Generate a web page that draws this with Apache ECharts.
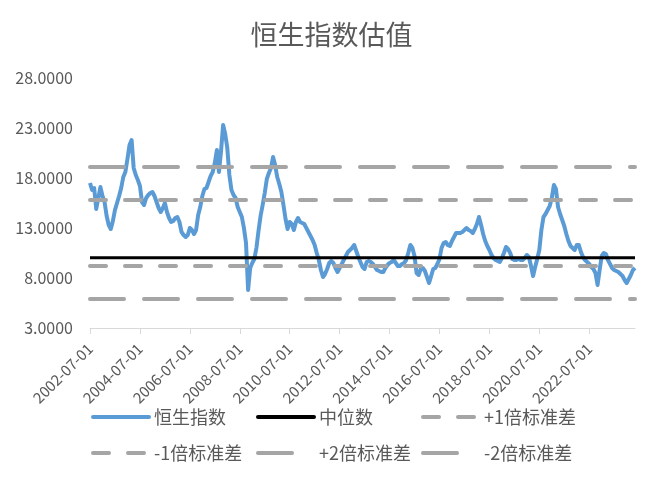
<!DOCTYPE html>
<html>
<head>
<meta charset="utf-8">
<title>恒生指数估值</title>
<style>
    html, body {margin: 0; padding: 0; background: #fff;}
    #main {width: 663px; height: 481px;}
</style>
</head>
<body>
<div id="main"></div>
<script src="https://cdn.jsdelivr.net/npm/echarts@6/dist/echarts.min.js"></script>
<script>
    // 月度估值，2002-07 起
    var startYear = 2002;
    var startMonth = 7;
    var hsiValues = [
        17.5, 16.8, 17.0, 14.9, 16.0, 17.1, 16.2, 15.6, 14.2, 13.3, 12.9, 13.7,
        14.8, 15.5, 16.2, 17.0, 18.1, 18.6, 19.9, 21.3, 21.8, 19.0, 18.3, 17.8,
        17.2, 15.6, 15.3, 16.0, 16.3, 16.5, 16.6, 16.2, 15.6, 15.0, 14.6, 15.0,
        15.5, 14.6, 14.0, 13.6, 13.7, 14.0, 14.1, 13.6, 12.6, 12.3, 12.1, 12.3,
        13.0, 12.8, 12.4, 12.8, 14.3, 15.1, 16.2, 16.9, 17.0, 17.6, 18.2, 18.6,
        19.5, 20.8, 18.6, 20.7, 23.3, 22.4, 21.0, 18.3, 16.8, 16.3, 16.0, 15.1,
        14.6, 14.1, 13.0, 11.5, 6.8, 9.0, 9.5, 9.9, 11.0, 12.7, 14.2, 15.3,
        16.5, 17.9, 18.5, 19.0, 20.1, 19.3, 18.1, 17.4, 16.6, 15.3, 13.9, 12.9,
        13.6, 13.4, 12.8, 13.6, 14.0, 13.6, 13.5, 13.4, 13.0, 12.6, 12.2, 11.8,
        11.3, 10.5, 9.8, 8.8, 8.1, 8.4, 8.9, 9.5, 9.7, 9.5, 9.0, 8.6,
        9.0, 9.4, 9.8, 10.2, 10.6, 10.8, 11.0, 11.3, 10.7, 10.1, 9.6, 9.1,
        8.9, 9.6, 9.7, 9.6, 9.4, 9.1, 8.8, 8.7, 8.6, 8.6, 9.0, 9.3,
        9.5, 9.6, 9.8, 9.5, 9.2, 9.2, 9.4, 9.5, 9.8, 10.5, 11.3, 11.0,
        10.2, 8.5, 8.3, 8.9, 9.0, 8.7, 8.1, 7.5, 8.2, 8.9, 9.0, 9.4,
        9.9, 11.0, 11.5, 11.6, 11.3, 11.2, 11.7, 12.1, 12.5, 12.5, 12.5, 12.6,
        12.8, 13.0, 12.8, 12.7, 12.5, 12.9, 13.4, 14.1, 13.3, 12.4, 11.7, 11.2,
        10.8, 10.3, 10.0, 9.8, 9.7, 9.6, 10.0, 10.5, 11.1, 10.9, 10.5, 9.9,
        9.8, 9.8, 9.9, 9.8, 9.8, 10.0, 10.3, 10.1, 9.2, 8.2, 9.1, 9.9,
        10.8, 12.8, 14.1, 14.4, 14.8, 15.2, 16.0, 17.3, 16.9, 15.1, 14.4, 13.8,
        13.2, 12.4, 11.7, 11.2, 11.0, 10.8, 11.3, 11.3, 10.6, 10.1, 9.8, 9.6,
        9.4, 9.1, 8.9, 8.5, 7.3, 8.8, 10.2, 10.5, 10.4, 9.8, 9.4, 9.0,
        8.8, 8.7, 8.6, 8.4, 8.2, 7.8, 7.5, 7.9, 8.3, 8.8, 9.0
    ];
    var medianValue = 10.03;
    var meanValue = 12.5;
    var stdValue = 3.3;
    var seriesNames = ['恒生指数', '中位数', '+1倍标准差', '-1倍标准差', '+2倍标准差', '-2倍标准差'];
    var yMin = 3, yMax = 28, yStep = 5;

    var dateList = [];
    for (var i = 0; i < hsiValues.length; i++) {
        var mm = startMonth - 1 + i;
        var y = startYear + Math.floor(mm / 12);
        var m = mm % 12 + 1;
        dateList.push(y + '-' + (m < 10 ? '0' + m : m) + '-01');
    }

    function flat(v) {
        var arr = [];
        for (var i = 0; i < dateList.length; i++) arr.push(v);
        return arr;
    }

    var font = '"Noto Sans CJK SC", "Microsoft YaHei", sans-serif';
    var grey = '#A5A5A5';
    var shortDash = [16, 19];
    var longDash = [34, 20];

    var bands = [
        {name: seriesNames[2], v: meanValue + stdValue, dash: shortDash},
        {name: seriesNames[3], v: meanValue - stdValue, dash: shortDash},
        {name: seriesNames[4], v: meanValue + 2 * stdValue, dash: longDash},
        {name: seriesNames[5], v: meanValue - 2 * stdValue, dash: longDash}
    ];

    var series = [
        {
            name: seriesNames[0], type: 'line', symbol: 'none', data: hsiValues,
            lineStyle: {color: '#5B9BD5', width: 4, join: 'round'}, itemStyle: {color: '#5B9BD5'}
        },
        {
            name: seriesNames[1], type: 'line', symbol: 'none', data: flat(medianValue),
            lineStyle: {color: '#000', width: 3}, itemStyle: {color: '#000'}
        }
    ];
    bands.forEach(function (b) {
        series.push({
            name: b.name, type: 'line', symbol: 'none', data: flat(b.v),
            lineStyle: {color: grey, width: 4, type: b.dash, cap: 'round'}, itemStyle: {color: grey}
        });
    });

    // 图例：两行三列
    var legendLeft = [91, 256, 421];
    var legendTop = [408, 444];
    var legendDash = ['solid', 'solid', shortDash, shortDash, [34, 40], [34, 40]];
    var legends = [];
    seriesNames.forEach(function (n, k) {
        legends.push({
            data: [n],
            left: legendLeft[k % 3],
            top: legendTop[Math.floor(k / 3)],
            itemWidth: 56,
            itemHeight: 14,
            padding: 0,
            itemStyle: {opacity: 0},
            lineStyle: {width: 4, cap: 'round', type: legendDash[k]},
            textStyle: {color: '#595959', fontSize: 18, fontFamily: font}
        });
    });

    var myChart = echarts.init(document.getElementById('main'));
    var option = {
        animation: false,
        title: {
            text: '恒生指数估值',
            left: 'center',
            top: 16,
            textStyle: {color: '#595959', fontSize: 27, fontWeight: 'normal', fontFamily: font}
        },
        legend: legends,
        grid: {left: 90, right: 28, top: 78, bottom: 153},
        xAxis: {
            type: 'category',
            boundaryGap: false,
            data: dateList,
            axisLine: {lineStyle: {color: '#D9D9D9', width: 1}},
            axisTick: {show: true, interval: 23, length: 6, lineStyle: {color: '#D9D9D9'}},
            axisLabel: {interval: 23, rotate: 45, margin: 18, color: '#595959', fontSize: 15, fontFamily: font}
        },
        yAxis: {
            type: 'value',
            min: yMin,
            max: yMax,
            interval: yStep,
            axisLine: {show: false},
            axisTick: {show: false},
            splitLine: {show: false},
            axisLabel: {
                margin: 17, color: '#595959', fontSize: 16, fontFamily: font,
                formatter: function (v) { return v.toFixed(4); }
            }
        },
        series: series
    };
    myChart.setOption(option);
</script>
</body>
</html>
